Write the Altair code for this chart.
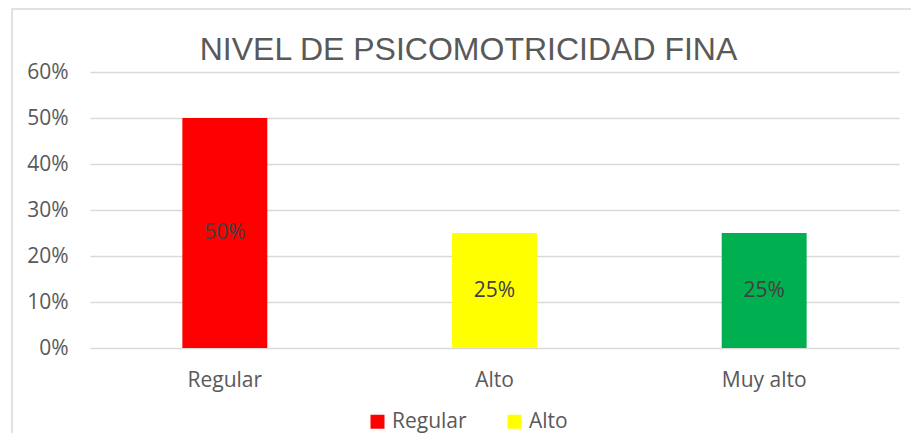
import altair as alt
import pandas as pd

categories = ["Regular", "Alto", "Muy alto"]
values = [0.50, 0.25, 0.25]
colors = ["#FF0000", "#FFFF00", "#00B050"]
legend_items = ["Regular", "Alto"]
y_ticks = [0, 0.1, 0.2, 0.3, 0.4, 0.5, 0.6]
title_text = "NIVEL DE PSICOMOTRICIDAD FINA"

df = pd.DataFrame({"cat": categories, "val": values})
FONT = "Open Sans"
GREY = "#595959"
FS = 21

base = alt.Chart(df)

x_enc = alt.X(
    "cat:N", sort=categories,
    scale=alt.Scale(paddingInner=0.685, paddingOuter=0.3425),
    axis=alt.Axis(title=None, labelAngle=0, domain=False, ticks=False,
                  labelPadding=21, labelFontSize=FS, labelFont=FONT,
                  labelColor=GREY, grid=False),
)
y_scale = alt.Scale(domain=[0, 0.6])

bars = base.mark_bar().encode(
    x=x_enc,
    y=alt.Y("val:Q", scale=y_scale,
            axis=alt.Axis(values=y_ticks, format=".0%", title=None, domain=False,
                          ticks=False, labelPadding=22, gridColor="#d9d9d9",
                          gridWidth=1.5, labelFont=FONT, labelFontSize=FS,
                          labelColor=GREY)),
    color=alt.Color("cat:N",
                    scale=alt.Scale(domain=categories, range=colors),
                    legend=alt.Legend(values=legend_items, title=None, orient="none",
                                      legendX=277, legendY=339, direction="horizontal",
                                      symbolType="square", symbolSize=196,
                                      symbolStrokeWidth=0, labelFontSize=FS,
                                      labelFont=FONT, labelColor=GREY,
                                      columnPadding=37, labelOffset=4,
                                      symbolOpacity=1)),
)

labels = base.transform_calculate(mid="datum.val / 2").mark_text(
    font=FONT, fontSize=FS, color="#404040", baseline="middle"
).encode(
    x=alt.X("cat:N", sort=categories),
    y=alt.Y("mid:Q", scale=y_scale),
    text=alt.Text("val:Q", format=".0%"),
)

one = alt.Data(values=[{"a": 1}])

border = alt.Chart(one).mark_rect(
    fillOpacity=0, stroke="#d9d9d9", strokeWidth=1.5
).encode(
    x=alt.value(-78), x2=alt.value(860), y=alt.value(-63), y2=alt.value(420)
)

title = alt.Chart(one).mark_text(
    font="Liberation Sans", fontSize=32, color=GREY, align="center",
    baseline="alphabetic"
).encode(
    x=alt.value(378.5), y=alt.value(-12), text=alt.value(title_text)
)

chart = alt.layer(border, bars, labels, title).properties(
    width=809, height=276,
    padding={"left": 82, "top": 64, "right": 12, "bottom": 85},
    autosize=alt.AutoSizeParams(type="none"),
    background="white",
).configure_view(stroke=None)

chart.save("out.html", embed_options={"renderer": "svg", "actions": False})
